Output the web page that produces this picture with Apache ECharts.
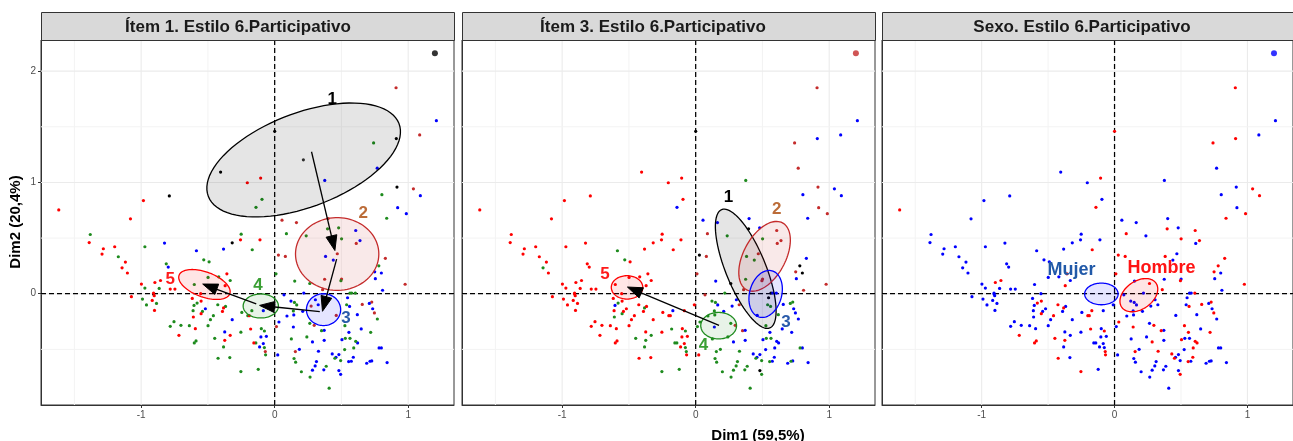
<!DOCTYPE html>
<html><head><meta charset="utf-8">
<script src="https://cdn.jsdelivr.net/npm/echarts@6/dist/echarts.min.js"></script>
<style>html,body{margin:0;padding:0;background:#fff}#c{width:1293px;height:441px}</style>
</head><body><div id="c"></div>
<script>
// ---------- DATA ----------
const dim1 = [
-1.617,-0.983,-0.789,-1.080,-1.381,-1.389,-1.283,-1.293,-1.198,-1.171,
-1.118,-1.143,-1.103,-0.972,-0.825,-0.812,-0.797,-0.897,-0.855,-0.998,
-0.972,-0.907,-0.907,-0.865,-0.782,-0.747,-1.073,-0.990,-0.902,-0.917,
-0.885,-0.960,-0.900,-0.754,-0.782,-0.717,-0.318,-0.383,-0.586,-0.168,
-0.531,-0.491,-0.358,-0.499,-0.419,-0.333,-0.602,-0.371,-0.617,-0.554,
-0.551,-0.581,-0.604,-0.611,-0.541,-0.519,-0.551,-0.426,-0.383,-0.368,
-0.391,-0.459,-0.481,-0.609,-0.702,-0.639,-0.594,-0.499,-0.318,-0.374,
-0.333,-0.374,-0.449,-0.589,-0.602,-0.383,-0.424,-0.336,-0.253,-0.180,
-0.100,-0.077,-0.062,-0.103,-0.156,-0.141,-0.113,-0.085,-0.077,-0.070,
-0.068,-0.123,-0.201,-0.190,-0.246,-0.171,-0.085,-0.253,0.013,0.032,
0.092,0.122,0.148,0.165,0.218,0.150,0.140,0.143,0.010,0.028,
0.080,0.140,0.125,0.023,0.145,0.157,0.185,0.200,0.265,0.283,
0.088,0.236,0.055,0.163,-0.251,-0.256,-0.110,0.396,0.479,0.501,
0.607,0.639,0.611,0.469,0.381,0.439,0.829,0.780,0.749,0.799,
0.754,0.501,0.496,0.374,0.263,0.977,0.808,0.359,0.577,0.604,
0.564,0.546,0.539,0.561,0.656,0.709,0.727,0.734,0.747,0.769,
0.619,0.326,0.273,0.461,0.263,0.296,0.351,0.371,0.526,0.556,
0.719,0.241,0.283,0.371,0.504,0.529,0.564,0.607,0.621,0.592,
0.524,0.782,0.799,0.328,0.431,0.451,0.459,0.481,0.494,0.589,
0.554,0.574,0.689,0.714,0.727,0.842,0.313,0.303,0.386,0.368,
0.481,0.494,0.408,0.909,1.211,1.086,0.911,0.741,0.768,0.375,
-0.105,-0.205,-0.405,-0.095,-0.140,0.916,1.039,1.091,0.803,0.921,
0.986,0.839,0.000,0.400,0.648,0.155,0.070,-0.010,0.305,0.210
];
const dim2 = [
0.753,0.837,0.879,0.673,0.532,0.460,0.404,0.356,0.422,0.332,
0.284,0.233,0.186,0.422,0.455,0.269,0.239,0.101,0.119,0.087,
0.051,0.006,-0.003,0.048,0.042,0.042,-0.027,-0.048,-0.018,-0.060,
-0.087,-0.101,-0.150,-0.251,-0.293,-0.374,0.457,0.401,0.386,0.395,
0.305,0.287,0.179,0.146,0.152,0.119,0.083,0.072,-0.042,0.000,
-0.066,-0.084,-0.105,-0.152,-0.159,-0.135,-0.179,-0.099,-0.128,-0.114,
-0.159,-0.197,-0.233,-0.209,-0.284,-0.287,-0.314,-0.287,-0.233,-0.343,
-0.374,-0.419,-0.401,-0.424,-0.442,-0.478,-0.580,-0.574,-0.700,-0.317,
-0.314,-0.335,-0.383,-0.388,-0.442,-0.442,-0.478,-0.448,-0.484,-0.520,
-0.549,-0.679,-0.197,-0.197,-0.168,-0.152,-0.152,-0.346,-0.295,-0.254,
-0.200,-0.066,-0.078,-0.101,0.006,0.114,-0.155,-0.191,0.179,0.347,
0.335,-0.299,-0.406,-0.550,-0.582,-0.615,-0.500,-0.701,-0.749,-0.687,
0.540,0.520,0.661,0.639,0.535,0.484,0.484,0.583,0.592,0.493,
0.568,0.478,0.452,0.359,0.335,0.302,0.318,0.251,0.197,0.186,
0.135,0.132,0.117,0.130,0.092,0.085,0.031,0.036,0.006,0.006,
0.006,-0.036,-0.099,-0.114,-0.096,-0.087,-0.075,-0.135,-0.173,-0.227,
-0.188,-0.099,-0.111,-0.195,-0.266,-0.284,-0.332,-0.329,-0.287,-0.347,
-0.347,-0.388,-0.433,-0.419,-0.413,-0.401,-0.401,-0.428,-0.442,-0.487,
-0.502,-0.487,-0.487,-0.517,-0.541,-0.580,-0.571,-0.547,-0.601,-0.571,
-0.610,-0.607,-0.625,-0.607,-0.604,-0.619,-0.610,-0.649,-0.652,-0.684,
-0.691,-0.724,-0.849,1.851,1.555,1.427,1.394,1.355,1.128,1.018,
1.039,0.997,1.093,0.848,0.776,0.958,0.943,0.881,0.890,0.773,
0.719,0.678,1.460,0.675,-0.316,-0.520,-0.010,-0.100,-0.054,-0.158
];
// Respuesta al Ítem 1 (1..5)
const item1 = [
5,5,1,5,4,5,5,5,5,4, 5,5,5,4,3,4,3,5,5,5, 4,5,1,4,5,5,5,4,5,5,
4,4,5,4,4,5,1,3,3,4, 4,4,5,4,4,4,4,5,5,5, 5,4,4,4,4,3,5,4,5,4,
5,4,4,5,4,4,5,4,3,3, 5,5,4,4,4,4,4,4,4,5, 4,4,3,3,5,4,3,3,4,2,
4,4,4,5,4,4,3,4,2,3, 3,3,4,4,3,4,4,3,4,2, 2,3,4,3,4,4,3,4,4,3,
4,4,2,2,4,5,5,4,4,4, 3,3,2,2,3,3,2,4,3,3, 3,2,4,2,4,2,3,2,4,4,
4,3,4,3,2,3,2,3,2,4, 3,3,2,2,4,2,4,3,4,3, 4,4,3,3,3,4,4,4,3,4,
4,3,3,3,3,4,3,3,4,3, 3,3,3,3,3,3,3,3,4,3, 3,3,4,2,3,2,1,4,3,3,
5,5,1,4,4,1,2,3,4,3, 3,4,1,2,3,2,3,3,3,3
];
// Respuesta al Ítem 3 (1..5)
const item3 = [
5,5,5,5,5,5,5,5,5,5, 5,4,5,5,5,5,5,5,5,5, 5,5,5,5,5,5,5,5,5,5,
5,5,5,5,5,5,5,5,4,5, 4,5,5,5,5,5,5,5,5,5, 5,4,3,5,5,5,4,5,4,5,
5,5,5,4,5,5,5,5,5,5, 4,4,4,5,5,4,5,5,4,4, 5,4,5,5,4,4,5,5,4,4,
5,4,5,5,5,3,5,5,4,4, 4,4,4,3,4,3,4,4,2,1, 2,3,4,5,4,4,4,4,4,4,
2,4,3,3,5,5,5,1,3,4, 2,2,2,2,4,4,3,1,2,1, 3,2,2,4,1,2,2,2,3,3,
1,1,4,4,3,4,4,3,3,3, 4,2,3,3,4,2,2,3,4,3, 3,4,3,3,3,4,4,3,3,3,
3,4,3,4,3,4,3,3,4,3, 4,3,3,4,3,3,4,4,4,4, 1,4,4,2,3,3,3,2,2,4,
5,5,5,5,3,2,3,3,3,2, 2,3,1,3,3,4,2,5,3,3
];
// Sexo: M = Mujer, H = Hombre
const sexo = [
'H','M','M','M','M','M','M','M','M','M', 'M','M','M','M','M','M','M','H','H','M',
'M','M','M','M','M','M','M','M','M','M', 'M','M','M','M','M','H','M','M','M','H',
'M','M','H','M','M','M','M','H','M','M', 'H','H','M','M','M','M','H','H','H','M',
'M','H','M','M','M','M','M','M','M','M', 'M','H','H','H','H','M','H','M','H','H',
'M','H','M','M','M','M','M','M','M','H', 'H','M','H','H','M','H','M','M','M','H',
'M','M','M','M','M','M','M','M','H','H', 'H','H','M','M','M','M','M','M','M','M',
'H','M','M','M','M','M','M','H','M','H', 'H','H','M','M','H','M','H','H','H','M',
'M','M','H','M','H','H','M','H','M','H', 'M','M','M','H','H','M','H','M','H','M',
'M','M','M','M','M','H','H','M','H','H', 'H','M','H','M','H','M','M','H','H','H',
'M','M','M','H','H','H','M','M','M','H', 'H','M','M','M','M','M','M','M','M','M',
'M','H','M','H','M','M','H','H','M','M', 'H','M','M','M','H','M','H','H','M','M',
'H','H','H','M','M','H','M','M','M','M'
];
const itemCats = [1, 2, 3, 4, 5];
const sexCats = ['M', 'H'];
const sexNames = ['Mujer', 'Hombre'];
const panelTitles = ['Ítem 1. Estilo 6.Participativo', 'Ítem 3. Estilo 6.Participativo', 'Sexo. Estilo 6.Participativo'];
const xTicks = [-1, 0, 1];
const yTicks = [0, 1, 2];
const xMinor = [-1.5, -0.5, 0.5];
const yMinor = [-0.5, 0.5, 1.5];
const bigDot = [1.2, 2.16];
// group mean point of category 1 (Ítem 1 panel)
const meanItem1Cat1 = [0.215, 1.203];
// ellipses: cx, cy, axis-u (dx,dy), axis-v (dx,dy), category index
const ellItem1 = [
  [0.217, 1.202, 0.714, 0.327, 0.126, -0.394, 0],
  [0.468, 0.357, 0.312, 0.000, 0.000, 0.327, 1],
  [0.366, -0.143, 0.128, 0.000, 0.000, 0.143, 2],
  [-0.104, -0.110, 0.132, 0.000, 0.000, 0.108, 3],
  [-0.526, 0.083, 0.190, -0.083, -0.032, -0.106, 4]
];
const ellItem3 = [
  [0.375, 0.224, 0.180, -0.532, 0.139, 0.067, 0],
  [0.516, 0.336, 0.134, 0.301, 0.139, -0.088, 1],
  [0.524, -0.002, 0.047, 0.208, 0.116, -0.037, 2],
  [0.172, -0.287, 0.134, 0.000, 0.000, 0.119, 3],
  [-0.514, 0.057, 0.118, 0.000, 0.000, 0.105, 4]
];
const ellSexo = [
  [-0.099, -0.002, 0.126, 0.000, 0.000, 0.097, 0],
  [0.183, -0.013, 0.129, 0.108, 0.060, -0.103, 1]
];
// trajectories between category points
const arrItem1 = [
  [0.276, 1.276, 0.451, 0.388],
  [0.464, 0.311, 0.358, -0.158],
  [0.338, -0.161, -0.113, -0.105],
  [-0.138, -0.092, -0.539, 0.087]
];
const arrItem3 = [
  [0.175, -0.284, -0.511, 0.060]
];
// category labels: x, y, category index
const lblItem1 = [[0.431, 1.746, 0], [0.664, 0.724, 1], [0.534, -0.218, 2], [-0.125, 0.074, 3], [-0.782, 0.126, 4]];
const lblItem3 = [[0.246, 0.867, 0], [0.607, 0.762, 1], [0.677, -0.254, 2], [0.058, -0.463, 3], [-0.679, 0.170, 4]];
const lblSexo = [[-0.323, 0.209, 0], [0.353, 0.230, 1]];

// ---------- STYLE ----------
const FONT = 'Liberation Sans, Arial, Helvetica, sans-serif';
const itemColors = ['#000000', '#C42B2B', '#0000FF', '#1E8B1E', '#FF0000'];
const itemLabelColors = ['#000000', '#BC6C38', '#2A5BAA', '#3A9F34', '#FF1A1A'];
const sexColors = ['#0000FF', '#FF0000'];
const sexLabelColors = ['#2159A8', '#FF1414'];
const X_MIN = -1.75, X_MAX = 1.343, Y_MIN = -1.0, Y_MAX = 2.28;
const panelLeft = [41, 462, 882];
const PW = 413, PT = 40, PH = 365;

function rgba(hex, a) {
  const n = parseInt(hex.slice(1), 16);
  return 'rgba(' + (n >> 16 & 255) + ',' + (n >> 8 & 255) + ',' + (n & 255) + ',' + a + ')';
}

const grids = [], xAxes = [], yAxes = [], series = [];
for (let p = 0; p < 3; p++) {
  grids.push({left: panelLeft[p], top: PT, width: PW, height: PH, show: true,
    backgroundColor: '#FFFFFF', borderColor: '#333333', borderWidth: 1, containLabel: false});
  xAxes.push({type: 'value', gridIndex: p, min: X_MIN, max: X_MAX,
    axisLine: {show: true, onZero: false, lineStyle: {color: '#333333', width: 1}},
    splitLine: {show: false},
    axisTick: {show: true, customValues: xTicks, length: 3, lineStyle: {color: '#333333'}},
    axisLabel: {show: true, customValues: xTicks, color: '#4D4D4D', fontSize: 10, margin: 5, fontFamily: FONT}});
  yAxes.push({type: 'value', gridIndex: p, min: Y_MIN, max: Y_MAX,
    axisLine: {show: true, onZero: false, lineStyle: {color: '#333333', width: 1}},
    splitLine: {show: false},
    axisTick: {show: p === 0, customValues: yTicks, length: 3, lineStyle: {color: '#333333'}},
    axisLabel: {show: p === 0, customValues: yTicks, color: '#4D4D4D', fontSize: 10, margin: 5, fontFamily: FONT}});

  // grid lines + dashed zero lines
  const gl = [];
  xTicks.forEach(v => gl.push([v, 0, 0]));
  xMinor.forEach(v => gl.push([v, 0, 1]));
  yTicks.forEach(v => gl.push([v, 1, 0]));
  yMinor.forEach(v => gl.push([v, 1, 1]));
  gl.push([0, 0, 2]); gl.push([0, 1, 2]);
  series.push({type: 'custom', xAxisIndex: p, yAxisIndex: p, z: 1, silent: true, data: gl,
    renderItem: (params, api) => {
      const v = api.value(0), dir = api.value(1), kind = api.value(2);
      const cs = params.coordSys;
      let x1, y1, x2, y2;
      if (dir === 0) { const q = api.coord([v, 0]); x1 = x2 = q[0]; y1 = cs.y; y2 = cs.y + cs.height; }
      else { const q = api.coord([0, v]); y1 = y2 = q[1]; x1 = cs.x; x2 = cs.x + cs.width; }
      if (kind === 2) return {type: 'line', z2: 5, shape: {x1, y1, x2, y2}, style: {stroke: '#000000', lineWidth: 1.25, lineDash: [5, 3]}};
      return {type: 'line', shape: {x1, y1, x2, y2}, style: {stroke: kind === 0 ? '#EBEBEB' : '#F3F3F3', lineWidth: kind === 0 ? 1.1 : 1}};
    }});
}

// points
function addPoints(p, codes, cats, colors) {
  cats.forEach((c, k) => {
    const d = [];
    for (let i = 0; i < dim1.length; i++) if (codes[i] === c) d.push([dim1[i], dim2[i]]);
    series.push({type: 'scatter', xAxisIndex: p, yAxisIndex: p, z: 2, silent: true, data: d,
      symbol: 'circle', symbolSize: 3.2, itemStyle: {color: colors[k], opacity: 1}});
  });
}
addPoints(0, item1, itemCats, itemColors);
addPoints(1, item3, itemCats, itemColors);
addPoints(2, sexo, sexCats, sexColors);
series.push({type: 'scatter', xAxisIndex: 0, yAxisIndex: 0, z: 2, silent: true, data: [meanItem1Cat1],
  symbolSize: 3.2, itemStyle: {color: itemColors[0]}});

// ellipses
function addEllipses(p, ells, colors) {
  series.push({type: 'custom', xAxisIndex: p, yAxisIndex: p, z: 3, silent: true, data: ells,
    renderItem: (params, api) => {
      const cx = api.value(0), cy = api.value(1), ux = api.value(2), uy = api.value(3),
            vx = api.value(4), vy = api.value(5), k = api.value(6);
      const pts = [];
      for (let j = 0; j < 90; j++) {
        const t = j / 90 * 2 * Math.PI;
        pts.push(api.coord([cx + ux * Math.cos(t) + vx * Math.sin(t), cy + uy * Math.cos(t) + vy * Math.sin(t)]));
      }
      return {type: 'polygon', shape: {points: pts}, style: {fill: rgba(colors[k], 0.1), stroke: colors[k], lineWidth: 1.3}};
    }});
}
addEllipses(0, ellItem1, itemColors);
addEllipses(1, ellItem3, itemColors);
addEllipses(2, ellSexo, sexColors);

// arrows
function addArrows(p, arr) {
  series.push({type: 'custom', xAxisIndex: p, yAxisIndex: p, z: 4, silent: true, data: arr,
    renderItem: (params, api) => {
      const p0 = api.coord([api.value(0), api.value(1)]), p1 = api.coord([api.value(2), api.value(3)]);
      const dx = p1[0] - p0[0], dy = p1[1] - p0[1], len = Math.hypot(dx, dy), ux = dx / len, uy = dy / len;
      const L = 15, W = 5.5;
      const bx = p1[0] - ux * L, by = p1[1] - uy * L;
      return {type: 'group', children: [
        {type: 'line', shape: {x1: p0[0], y1: p0[1], x2: bx + ux * 2, y2: by + uy * 2}, style: {stroke: '#000', lineWidth: 1.3}},
        {type: 'polygon', shape: {points: [[p1[0], p1[1]], [bx - uy * W, by + ux * W], [bx + uy * W, by - ux * W]]},
          style: {fill: '#000', stroke: '#000', lineWidth: 1}}
      ]};
    }});
}
addArrows(0, arrItem1);
addArrows(1, arrItem3);

// labels
function addLabels(p, lbls, texts, colors, size) {
  series.push({type: 'custom', xAxisIndex: p, yAxisIndex: p, z: 5, silent: true, data: lbls,
    renderItem: (params, api) => {
      const q = api.coord([api.value(0), api.value(1)]);
      const k = api.value(2);
      return {type: 'text', x: q[0], y: q[1], style: {text: texts[k], fill: colors[k],
        font: 'bold ' + size + 'px ' + FONT, align: 'center', verticalAlign: 'middle',
        textAlign: 'center', textVerticalAlign: 'middle'}};
    }});
}
addLabels(0, lblItem1, itemCats.map(String), itemLabelColors, 17);
addLabels(1, lblItem3, itemCats.map(String), itemLabelColors, 17);
addLabels(2, lblSexo, sexNames, sexLabelColors, 18);

// big dots
const bigColors = ['#000000', '#C42B2B', '#0000FF'];
for (let p = 0; p < 3; p++) {
  series.push({type: 'scatter', xAxisIndex: p, yAxisIndex: p, z: 6, silent: true, data: [bigDot],
    symbolSize: 6, itemStyle: {color: bigColors[p]}});
}

// strips and axis titles
const stripCenters = [238, 653, 1082];
const graphic = [];
for (let p = 0; p < 3; p++) {
  graphic.push({type: 'rect', z: 10, shape: {x: panelLeft[p] + 0.5, y: 12.5, width: PW, height: 28},
    style: {fill: '#D9D9D9', stroke: '#333333', lineWidth: 1}});
  graphic.push({type: 'text', z: 11, x: stripCenters[p], y: 27,
    style: {text: panelTitles[p], font: 'bold 17px ' + FONT, fill: '#1A1A1A',
      align: 'center', verticalAlign: 'middle', textAlign: 'center', textVerticalAlign: 'middle'}});
}
graphic.push({type: 'text', z: 11, x: 758, y: 436, style: {text: 'Dim1 (59,5%)', font: 'bold 15px ' + FONT, fill: '#000',
  align: 'center', verticalAlign: 'middle', textAlign: 'center', textVerticalAlign: 'middle'}});
graphic.push({type: 'text', z: 11, x: 16, y: 222, rotation: Math.PI / 2, style: {text: 'Dim2 (20,4%)', font: 'bold 15px ' + FONT, fill: '#000',
  align: 'center', verticalAlign: 'middle', textAlign: 'center', textVerticalAlign: 'middle'}});

const chart = echarts.init(document.getElementById('c'), null, {renderer: 'canvas'});
chart.setOption({animation: false, backgroundColor: '#FFFFFF', grid: grids, xAxis: xAxes, yAxis: yAxes, series: series, graphic: graphic});
</script>
</body></html>
